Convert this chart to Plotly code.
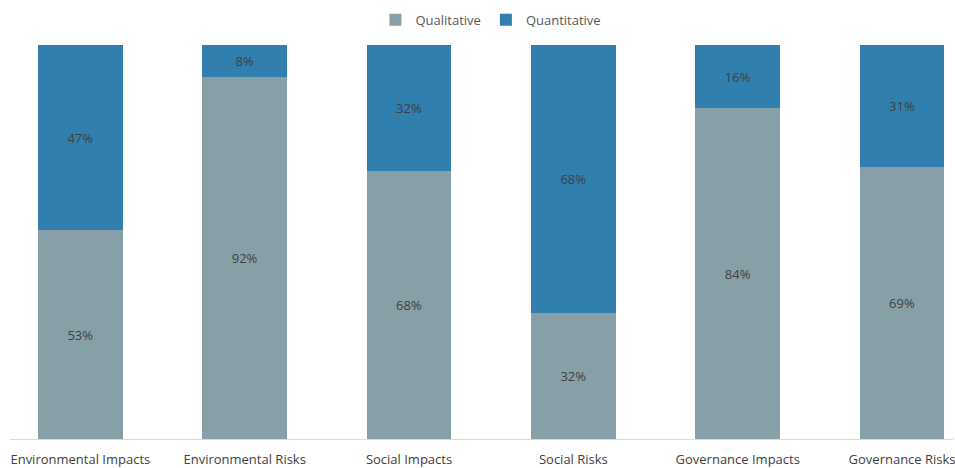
import plotly.graph_objects as go

categories = ["Environmental Impacts", "Environmental Risks", "Social Impacts",
              "Social Risks", "Governance Impacts", "Governance Risks"]
qualitative = [53, 92, 68, 32, 84, 69]
quantitative = [47, 8, 32, 68, 16, 31]

QUAL_COLOR = "#87a0a8"
QUANT_COLOR = "#317fae"
TEXT_COLOR = "#404040"
FONT = "Open Sans, Noto Sans, sans-serif"

x = list(range(len(categories)))

fig = go.Figure()
fig.add_trace(go.Bar(
    name="Qualitative", x=x, y=qualitative, marker_color=QUAL_COLOR,
    text=[f"{v}%" for v in qualitative], textposition="inside",
    insidetextanchor="middle", textfont=dict(color=TEXT_COLOR, size=13),
    width=0.516, marker_line_width=0,
))
fig.add_trace(go.Bar(
    name="Quantitative", x=x, y=quantitative, marker_color=QUANT_COLOR,
    text=[f"{v}%" for v in quantitative], textposition="inside",
    insidetextanchor="middle", textfont=dict(color=TEXT_COLOR, size=13),
    width=0.516, marker_line_width=0,
))

fig.update_layout(
    barmode="stack",
    width=955, height=468,
    margin=dict(l=10, r=0, t=45, b=29),
    paper_bgcolor="white", plot_bgcolor="white",
    font=dict(family=FONT, size=13, color=TEXT_COLOR),
    showlegend=True,
    legend=dict(orientation="h", x=0.51, xanchor="center", y=0.99, yanchor="top",
                yref="container", font=dict(size=13, color="#595959"),
                traceorder="normal", itemwidth=30, entrywidth=0),
    uniformtext=dict(mode="show", minsize=8),
)
fig.update_xaxes(
    tickmode="array", tickvals=x, ticktext=categories,
    range=[-0.428, 5.31], showgrid=False, zeroline=False,
    showline=True, linecolor="#d9d9d9", linewidth=1,
    ticks="", ticklabelstandoff=8, ticklabeloverflow="allow",
    tickfont=dict(size=13, color=TEXT_COLOR),
)
fig.update_yaxes(range=[0, 100], visible=False, showgrid=False, zeroline=False)

fig.write_html("out.html")
